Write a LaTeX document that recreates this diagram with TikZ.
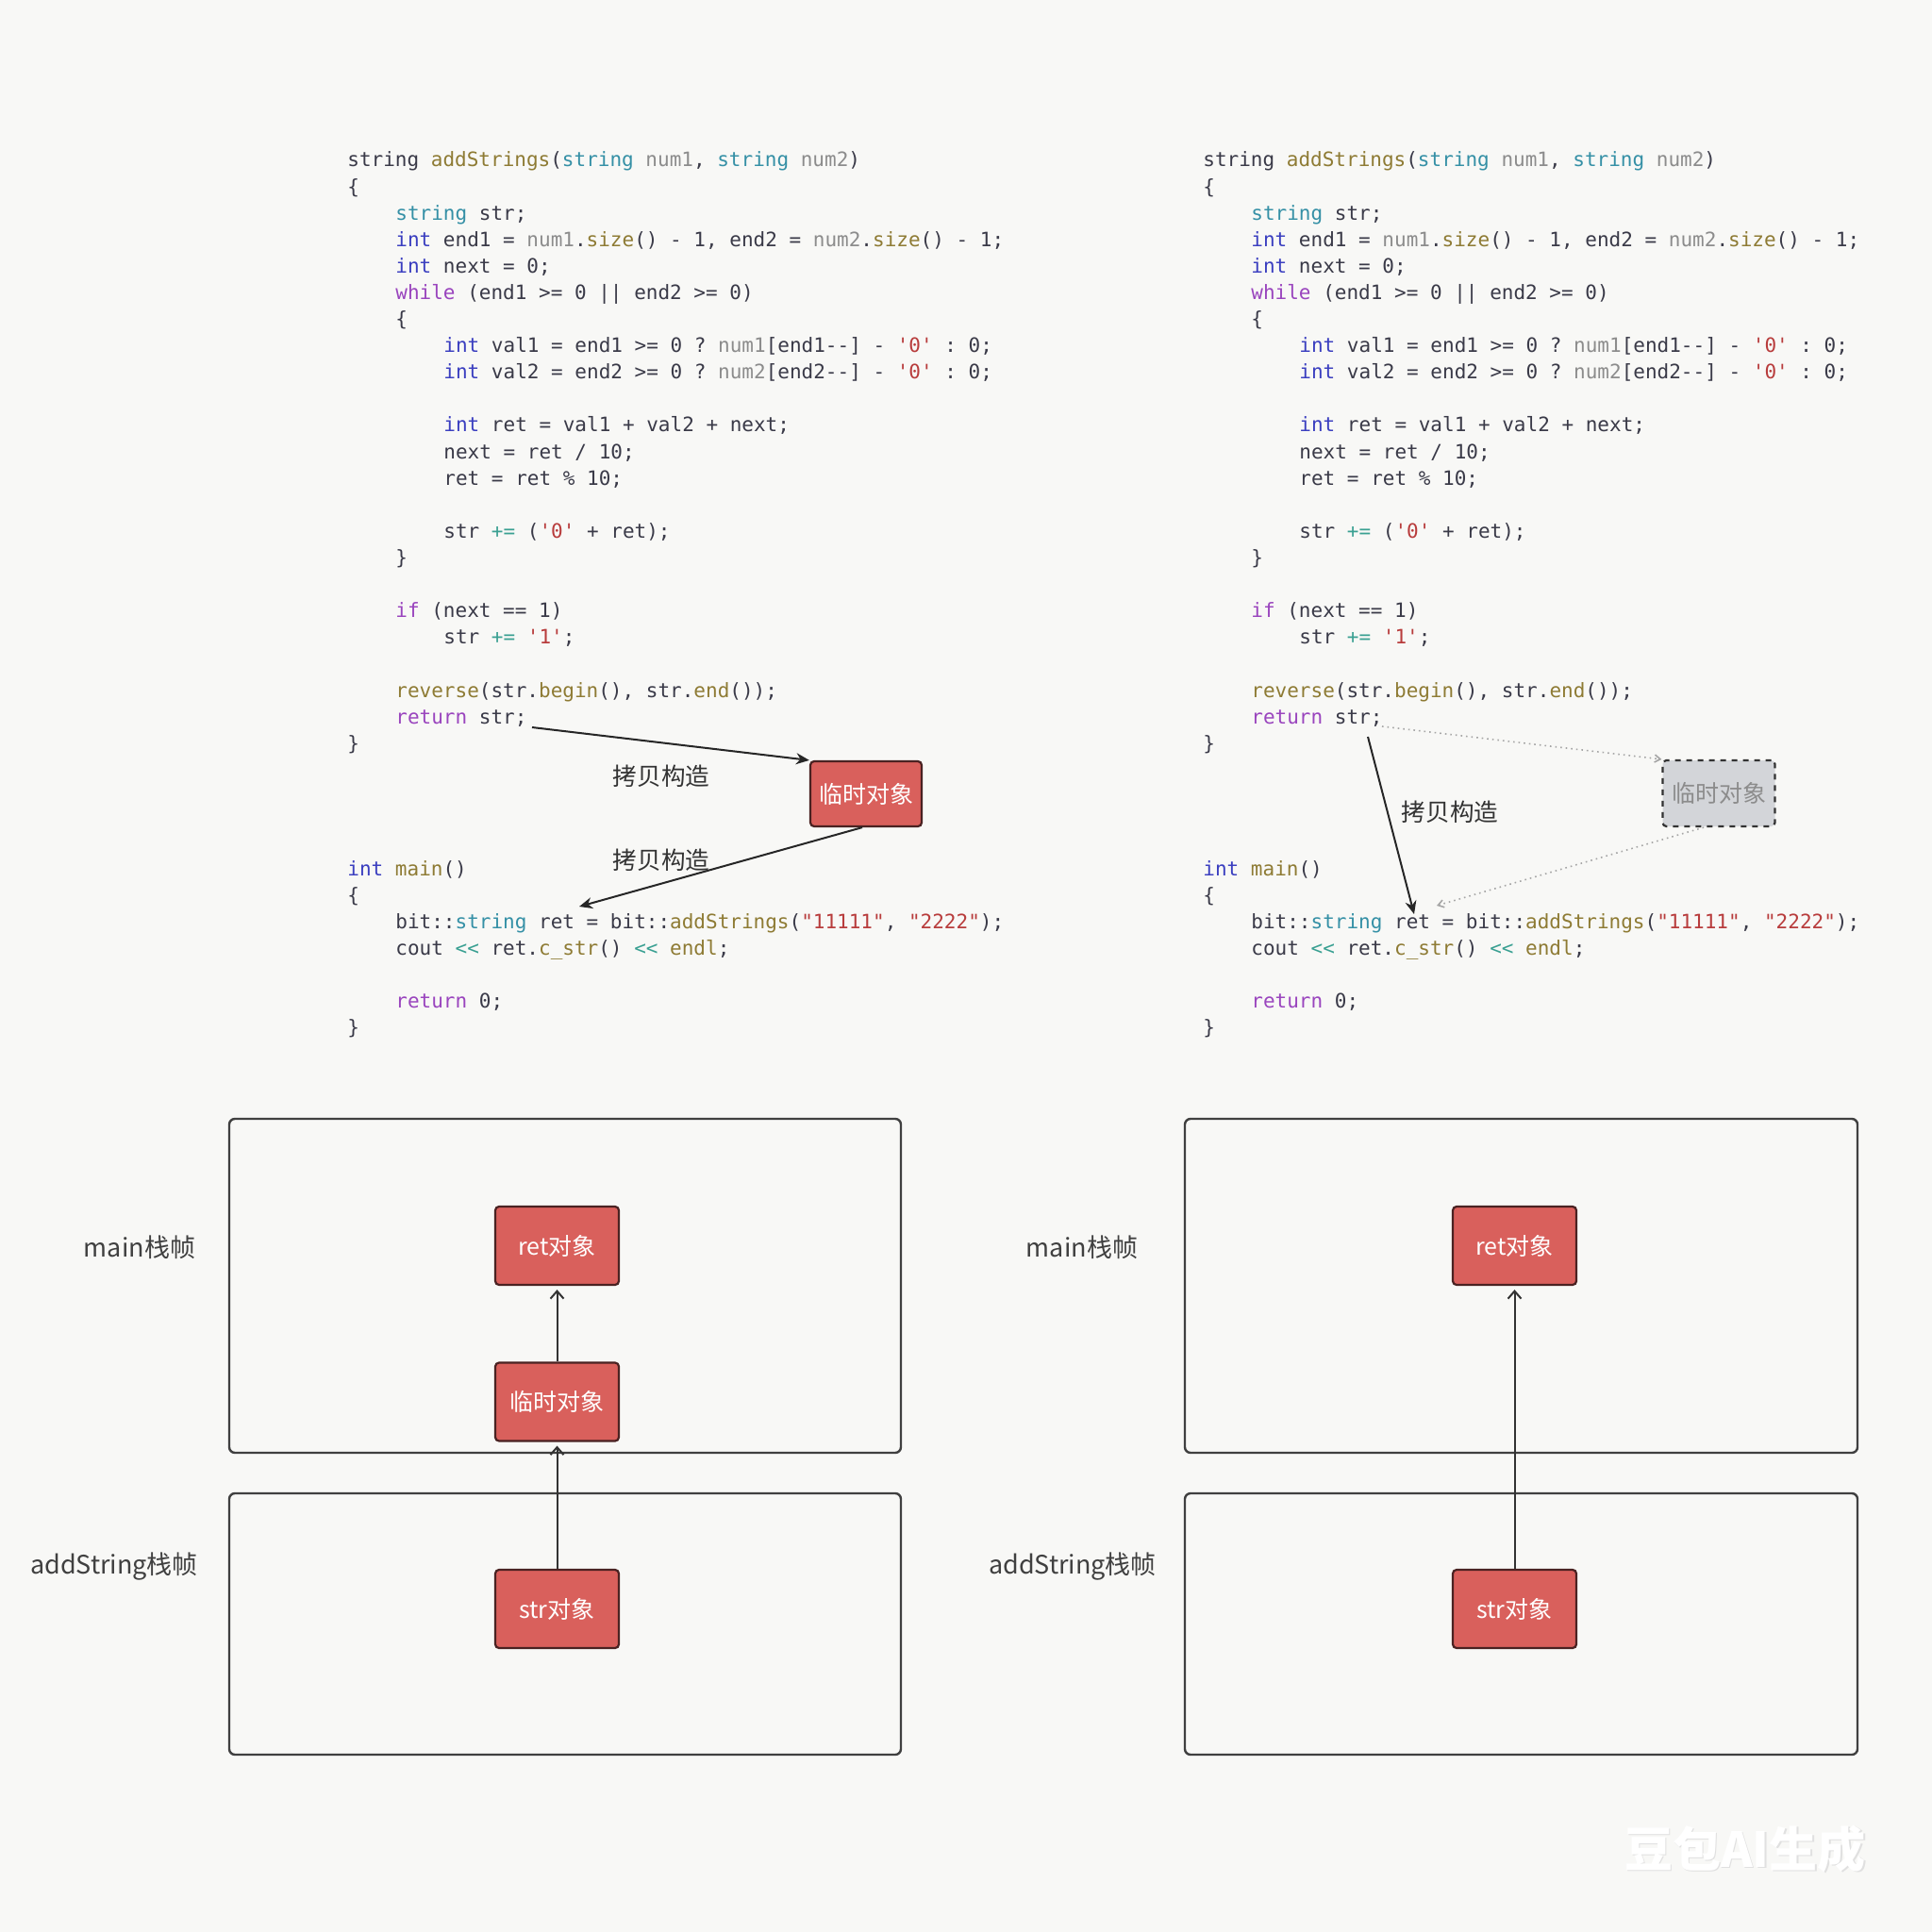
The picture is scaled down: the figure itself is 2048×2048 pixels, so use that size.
\documentclass[tikz,border=0pt]{standalone}
\usepackage{fontspec}
\setmainfont{Noto Sans CJK SC}
\setmonofont{DejaVu Sans Mono}
\usetikzlibrary{arrows.meta}
\definecolor{bgc}{HTML}{F8F8F6}
\definecolor{codec}{HTML}{3A3A48}
\definecolor{ckwc}{HTML}{3B3FC0}
\definecolor{cctlc}{HTML}{9A45BE}
\definecolor{cfnc}{HTML}{8E7B34}
\definecolor{ctypc}{HTML}{3590A6}
\definecolor{cparc}{HTML}{8C8C8C}
\definecolor{clitc}{HTML}{B83C3C}
\definecolor{copc}{HTML}{3AA092}
\definecolor{redf}{HTML}{D9605C}
\definecolor{redd}{HTML}{4A2222}
\definecolor{grayf}{HTML}{D3D5D9}
\definecolor{labc}{HTML}{404040}
\newcommand{\ckw}[1]{\textcolor{ckwc}{#1}}
\newcommand{\cctl}[1]{\textcolor{cctlc}{#1}}
\newcommand{\cfn}[1]{\textcolor{cfnc}{#1}}
\newcommand{\ctyp}[1]{\textcolor{ctypc}{#1}}
\newcommand{\cpar}[1]{\textcolor{cparc}{#1}}
\newcommand{\clit}[1]{\textcolor{clitc}{#1}}
\newcommand{\cop}[1]{\textcolor{copc}{#1}}
\begin{document}
\begin{tikzpicture}[x=0.5pt,y=-0.5pt,
  code/.style={anchor=base west,inner sep=0pt,font=\ttfamily\fontsize{10.5}{12}\selectfont,text=codec},
  redbox/.style={draw=redd,fill=redf,line width=1.1pt,rounded corners=2pt,text=white,font=\fontsize{12.5}{14}\selectfont},
  graybox/.style={draw=black!80,fill=grayf,line width=1.1pt,dashed,rounded corners=2pt,text=black!45,font=\fontsize{12.5}{14}\selectfont},
  frame/.style={draw=black!75,line width=1.2pt,rounded corners=3pt},
  lab/.style={text=labc,font=\fontsize{13.5}{16}\selectfont},
  cplab/.style={text=black!80,font=\fontsize{12.8}{15}\selectfont},
  arr/.style={draw=black!85,line width=1pt,-{Stealth[length=7pt,width=6pt]}},
  uparr/.style={draw=black!80,line width=1pt,-{Straight Barb[length=4pt,width=7pt]},shorten >=2pt},
  dotarr/.style={draw=black!35,line width=0.8pt,dotted,-{Straight Barb[length=3pt,width=4pt]}}
]
\useasboundingbox (0,0) rectangle (2048,2048);
\fill[bgc] (0,0) rectangle (2048,2048);

% ---------- code, both columns ----------
\foreach \s/\dx in {L/0,R/907}{
  \node[code] (\s a0) at ({368+\dx},{177+28.1*0}) {string \cfn{addStrings}(\ctyp{string} \cpar{num1}, \ctyp{string} \cpar{num2})};
  \node[code] (\s a1) at ({368+\dx},{177+28.1*1}) {\{};
  \node[code] (\s a2) at ({419+\dx},{177+28.1*2}) {\ctyp{string} str;};
  \node[code] (\s a3) at ({419+\dx},{177+28.1*3}) {\ckw{int} end1 = \cpar{num1}.\cfn{size}() - 1, end2 = \cpar{num2}.\cfn{size}() - 1;};
  \node[code] (\s a4) at ({419+\dx},{177+28.1*4}) {\ckw{int} next = 0;};
  \node[code] (\s a5) at ({419+\dx},{177+28.1*5}) {\cctl{while} (end1 >= 0 || end2 >= 0)};
  \node[code] (\s a6) at ({419+\dx},{177+28.1*6}) {\{};
  \node[code] (\s a7) at ({470+\dx},{177+28.1*7}) {\ckw{int} val1 = end1 >= 0 ? \cpar{num1}[end1--] - \clit{'0'} : 0;};
  \node[code] (\s a8) at ({470+\dx},{177+28.1*8}) {\ckw{int} val2 = end2 >= 0 ? \cpar{num2}[end2--] - \clit{'0'} : 0;};
  \node[code] (\s a10) at ({470+\dx},{177+28.1*10}) {\ckw{int} ret = val1 + val2 + next;};
  \node[code] (\s a11) at ({470+\dx},{177+28.1*11}) {next = ret / 10;};
  \node[code] (\s a12) at ({470+\dx},{177+28.1*12}) {ret = ret \% 10;};
  \node[code] (\s a14) at ({470+\dx},{177+28.1*14}) {str \cop{+=} (\clit{'0'} + ret);};
  \node[code] (\s a15) at ({419+\dx},{177+28.1*15}) {\}};
  \node[code] (\s a17) at ({419+\dx},{177+28.1*17}) {\cctl{if} (next == 1)};
  \node[code] (\s a18) at ({470+\dx},{177+28.1*18}) {str \cop{+=} \clit{'1'};};
  \node[code] (\s a20) at ({419+\dx},{177+28.1*20}) {\cfn{reverse}(str.\cfn{begin}(), str.\cfn{end}());};
  \node[code] (\s a21) at ({419+\dx},{177+28.1*21}) {\cctl{return} str;};
  \node[code] (\s a22) at ({368+\dx},{177+28.1*22}) {\}};
  \node[code] (\s m0) at ({368+\dx},{928+28.1*0}) {\ckw{int} \cfn{main}()};
  \node[code] (\s m1) at ({368+\dx},{928+28.1*1}) {\{};
  \node[code] (\s m2) at ({419+\dx},{928+28.1*2}) {bit::\ctyp{string} ret = bit::\cfn{addStrings}(\clit{"11111"}, \clit{"2222"});};
  \node[code] (\s m3) at ({419+\dx},{928+28.1*3}) {cout \cop{<<} ret.\cfn{c\_str}() \cop{<<} \cfn{endl};};
  \node[code] (\s m5) at ({419+\dx},{928+28.1*5}) {\cctl{return} 0;};
  \node[code] (\s m6) at ({368+\dx},{928+28.1*6}) {\}};
}

% ---------- top left: copy constructions via temporary ----------
\node[redbox,minimum width=59pt,minimum height=34.5pt] (tmpA) at (918,841.5) {临时对象};
\coordinate (a1s) at (564,771);
\coordinate (a2e) at (614,961);
\draw[arr] (a1s) -- (tmpA.north west);
\draw[arr] ([xshift=-2pt]tmpA.south) -- (a2e);
\node[cplab] (cpA1) at (701,823) {拷贝构造};
\node[cplab] (cpA2) at (701,912) {拷贝构造};

% ---------- top right: elided temporary ----------
\node[graybox,minimum width=59.5pt,minimum height=35pt] (tmpB) at (1822,841) {临时对象};
\coordinate (b1s) at (1465,770);
\coordinate (b2e) at (1523,960);
\coordinate (b3s) at (1450,781);
\coordinate (b3e) at (1499,969);
\draw[dotarr] (b1s) -- (tmpB.north west);
\draw[dotarr] ([xshift=-8pt]tmpB.south) -- (b2e);
\draw[arr] (b3s) -- (b3e);
\node[cplab] (cpB) at (1537,861) {拷贝构造};

% ---------- bottom left: stack frames ----------
\node[frame,minimum width=356pt,minimum height=177pt] (fLm) at (599,1363) {};
\node[frame,minimum width=356pt,minimum height=138.5pt] (fLa) at (599,1721.5) {};
\node[redbox,minimum width=65.5pt,minimum height=41.5pt] (retL) at (590.5,1320.5) {ret对象};
\node[redbox,minimum width=65.5pt,minimum height=41.5pt] (tmpL) at (590.5,1486) {临时对象};
\node[redbox,minimum width=65.5pt,minimum height=41.5pt] (strL) at (590.5,1705.5) {str对象};
\draw[uparr] (strL.north) -- (tmpL.south);
\draw[uparr] (tmpL.north) -- (retL.south);
\node[lab] (labLm) at (148,1322) {main栈帧};
\node[lab] (labLa) at (121,1661) {addString栈帧};

% ---------- bottom right: stack frames ----------
\node[frame,minimum width=356.5pt,minimum height=177pt] (fRm) at (1612.5,1363) {};
\node[frame,minimum width=356.5pt,minimum height=138.5pt] (fRa) at (1612.5,1721.5) {};
\node[redbox,minimum width=65.5pt,minimum height=41.5pt] (retR) at (1605.5,1320.5) {ret对象};
\node[redbox,minimum width=65.5pt,minimum height=41.5pt] (strR) at (1605.5,1705.5) {str对象};
\draw[uparr] (strR.north) -- (retR.south);
\node[lab] (labRm) at (1147,1322) {main栈帧};
\node[lab] (labRa) at (1137,1661) {addString栈帧};

% ---------- watermark ----------
\node[text=black!12,font=\bfseries\fontsize{25.5}{28}\selectfont] (wm0) at (1851.5,1961.5) {豆包AI生成};
\node[text=white,font=\bfseries\fontsize{25.5}{28}\selectfont] (wm) at (1850,1960) {豆包AI生成};
\end{tikzpicture}
\end{document}
